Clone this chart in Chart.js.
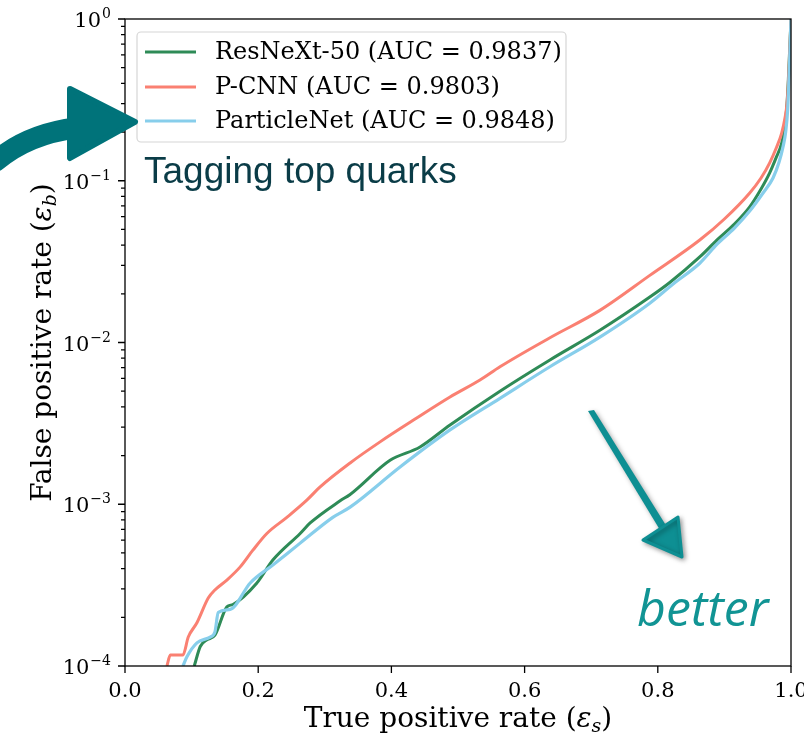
<!DOCTYPE html>
<html>
<head>
<meta charset="utf-8">
<script src="https://cdn.jsdelivr.net/npm/chart.js@4.4.1/dist/chart.umd.min.js"></script>
<style>
  html, body { margin: 0; padding: 0; background: #ffffff; }
  #roc { display: block; }
</style>
</head>
<body>
<canvas id="roc" width="804" height="735"></canvas>
<script>
// ROC curves (signal eff. vs background eff.)
const resnextLabel = "ResNeXt-50 (AUC = 0.9837)";
const resnextTpr = [0.104, 0.113, 0.123, 0.135, 0.153, 0.162, 0.198, 0.222, 0.263, 0.278, 0.323, 0.338, 0.398, 0.443, 0.488, 0.563, 0.638, 0.713, 0.788, 0.818, 0.863, 0.889, 0.915, 0.938, 0.955, 0.968, 0.978, 0.986, 0.991, 0.994, 0.996, 0.998, 1.0];
const resnextFpr = [1.0e-4, 1.32e-4, 1.45e-4, 1.55e-4, 2.32e-4, 2.40e-4, 3.26e-4, 4.52e-4, 6.6e-4, 7.66e-4, 1.05e-3, 1.15e-3, 1.87e-3, 2.26e-3, 3.09e-3, 5.0e-3, 7.8e-3, 1.19e-2, 1.91e-2, 2.35e-2, 3.38e-2, 4.31e-2, 5.4e-2, 6.9e-2, 8.9e-2, 0.112, 0.14, 0.171, 0.22, 0.30, 0.42, 0.65, 1.0];

const pcnnLabel = "P-CNN (AUC = 0.9803)";
const pcnnTpr = [0.063, 0.068, 0.087, 0.095, 0.108, 0.125, 0.135, 0.153, 0.173, 0.192, 0.213, 0.243, 0.273, 0.293, 0.338, 0.383, 0.438, 0.488, 0.533, 0.563, 0.638, 0.713, 0.788, 0.863, 0.90, 0.938, 0.955, 0.968, 0.978, 0.986, 0.991, 0.994, 0.996, 0.998, 1.0];
const pcnnFpr = [1.0e-4, 1.17e-4, 1.17e-4, 1.51e-4, 1.85e-4, 2.63e-4, 2.95e-4, 3.4e-4, 4.1e-4, 5.2e-4, 6.6e-4, 8.3e-4, 1.06e-3, 1.28e-3, 1.80e-3, 2.43e-3, 3.41e-3, 4.60e-3, 5.86e-3, 7.08e-3, 1.07e-2, 1.58e-2, 2.6e-2, 4.3e-2, 5.8e-2, 8.4e-2, 0.104, 0.129, 0.16, 0.197, 0.245, 0.30, 0.40, 0.62, 1.0];

const pnetLabel = "ParticleNet (AUC = 0.9848)";
const pnetTpr = [0.087, 0.093, 0.108, 0.128, 0.135, 0.140, 0.158, 0.188, 0.222, 0.263, 0.312, 0.338, 0.413, 0.488, 0.563, 0.638, 0.713, 0.788, 0.823, 0.863, 0.889, 0.915, 0.938, 0.958, 0.973, 0.982, 0.988, 0.992, 0.995, 0.998, 1.0];
const pnetFpr = [1.0e-4, 1.14e-4, 1.39e-4, 1.51e-4, 1.62e-4, 2.14e-4, 2.24e-4, 3.26e-4, 4.21e-4, 5.75e-4, 8.3e-4, 9.6e-4, 1.70e-3, 2.88e-3, 4.52e-3, 7.08e-3, 1.08e-2, 1.75e-2, 2.3e-2, 3.09e-2, 4.05e-2, 5.1e-2, 6.5e-2, 8.4e-2, 0.104, 0.13, 0.162, 0.20, 0.275, 0.56, 1.0];

const xTicks = [0, 0.2, 0.4, 0.6, 0.8, 1.0];
const yTicks = [1e-4, 1e-3, 1e-2, 1e-1, 1];
const yTickExps = ["\u22124", "\u22123", "\u22122", "\u22121", "0"];

const serif = "'DejaVu Serif', serif";

function pairs(xs, ys) {
  return xs.map((x, i) => ({ x: x, y: ys[i] }));
}

// draws pieces of text with different fonts / vertical offsets on one line
function drawRich(ctx, parts, x, y) {
  let total = 0;
  parts.forEach(p => { ctx.font = p.font; total += ctx.measureText(p.text).width; });
  let cx = x - total / 2;
  parts.forEach(p => {
    ctx.font = p.font;
    ctx.fillText(p.text, cx, y + (p.dy || 0));
    cx += ctx.measureText(p.text).width;
  });
}

const decorPlugin = {
  id: "decor",
  beforeDraw(chart) {
    const ctx = chart.ctx;
    ctx.save();
    ctx.fillStyle = "#ffffff";
    ctx.fillRect(0, 0, chart.width, chart.height);
    ctx.restore();
  },
  afterDraw(chart) {
    const ctx = chart.ctx;
    const area = chart.chartArea;
    const xs = chart.scales.x;
    const ys = chart.scales.y;
    ctx.save();

    // frame
    ctx.strokeStyle = "#000000";
    ctx.lineWidth = 1.3;
    ctx.strokeRect(area.left, area.top, area.right - area.left, area.bottom - area.top);

    // tick marks, major and minor
    ctx.beginPath();
    xTicks.forEach(v => {
      const px = xs.getPixelForValue(v);
      ctx.moveTo(px, area.bottom);
      ctx.lineTo(px, area.bottom + 7);
    });
    for (let e = -4; e <= 0; e++) {
      const py = ys.getPixelForValue(Math.pow(10, e));
      ctx.moveTo(area.left, py);
      ctx.lineTo(area.left - 7, py);
      if (e < 0) {
        for (let m = 2; m <= 9; m++) {
          const pm = ys.getPixelForValue(m * Math.pow(10, e));
          ctx.moveTo(area.left, pm);
          ctx.lineTo(area.left - 4, pm);
        }
      }
    }
    ctx.stroke();

    // tick labels
    ctx.fillStyle = "#000000";
    ctx.textBaseline = "alphabetic";
    ctx.textAlign = "center";
    ctx.font = "21px " + serif;
    xTicks.forEach(v => {
      ctx.fillText(v.toFixed(1), xs.getPixelForValue(v), 697);
    });
    ctx.textAlign = "left";
    yTicks.forEach((v, i) => {
      const py = ys.getPixelForValue(v);
      ctx.font = "14px " + serif;
      const ew = ctx.measureText(yTickExps[i]).width;
      ctx.font = "21px " + serif;
      const bw = ctx.measureText("10").width;
      const x0 = area.left - 15 - ew - bw;
      ctx.fillText("10", x0, py + 8);
      ctx.font = "14px " + serif;
      ctx.fillText(yTickExps[i], x0 + bw + 1, py - 1);
    });

    // axis titles
    drawRich(ctx, [
      { text: "True positive rate (", font: "28px " + serif },
      { text: "\u03B5", font: "italic 28px " + serif },
      { text: "s", font: "italic 19px " + serif, dy: 5 },
      { text: ")", font: "28px " + serif }
    ], (area.left + area.right) / 2, 727);

    ctx.save();
    ctx.translate(51, (area.top + area.bottom) / 2);
    ctx.rotate(-Math.PI / 2);
    drawRich(ctx, [
      { text: "False positive rate (", font: "28px " + serif },
      { text: "\u03B5", font: "italic 28px " + serif },
      { text: "b", font: "italic 19px " + serif, dy: 5 },
      { text: ")", font: "28px " + serif }
    ], 0, 0);
    ctx.restore();

    // legend box
    const lx = 137, ly = 32, lw = 429, lh = 110;
    ctx.beginPath();
    ctx.roundRect(lx, ly, lw, lh, 4);
    ctx.fillStyle = "rgba(255,255,255,0.8)";
    ctx.fill();
    ctx.strokeStyle = "#d6d6d6";
    ctx.lineWidth = 1.2;
    ctx.stroke();
    const rows = [52, 87, 121];
    chart.data.datasets.forEach((ds, i) => {
      ctx.beginPath();
      ctx.strokeStyle = ds.borderColor;
      ctx.lineWidth = ds.borderWidth;
      ctx.moveTo(145, rows[i]);
      ctx.lineTo(196, rows[i]);
      ctx.stroke();
      ctx.fillStyle = "#000000";
      ctx.font = "24px " + serif;
      ctx.textBaseline = "middle";
      ctx.fillText(ds.label, 215, rows[i] + 1);
    });

    // annotations
    ctx.textBaseline = "alphabetic";
    ctx.fillStyle = "#0a3c47";
    ctx.font = "37px 'Liberation Sans', Arial, sans-serif";
    ctx.fillText("Tagging top quarks", 144, 183);

    ctx.fillStyle = "#119494";
    ctx.font = "italic 50px 'Open Sans', sans-serif";
    ctx.fillText("better", 637, 626);

    // curved arrow on the left
    ctx.fillStyle = "#00737a";
    ctx.strokeStyle = "#00737a";
    ctx.lineCap = "round";
    ctx.lineWidth = 21;
    ctx.beginPath();
    ctx.moveTo(-4, 161);
    ctx.quadraticCurveTo(28, 134, 76, 128);
    ctx.stroke();
    ctx.beginPath();
    ctx.lineJoin = "round";
    ctx.lineWidth = 6;
    ctx.moveTo(70, 89);
    ctx.lineTo(135, 122);
    ctx.lineTo(70, 158);
    ctx.closePath();
    ctx.fill();
    ctx.stroke();

    // straight arrow pointing to the bottom right
    ctx.shadowColor = "rgba(0,0,0,0.35)";
    ctx.shadowBlur = 5;
    ctx.shadowOffsetX = 2;
    ctx.shadowOffsetY = 2;
    ctx.fillStyle = "#0e8f93";
    ctx.strokeStyle = "#0e8f93";
    ctx.beginPath();
    ctx.moveTo(588, 411);
    ctx.lineTo(594, 410);
    ctx.lineTo(667, 527);
    ctx.lineTo(660, 530);
    ctx.closePath();
    ctx.fill();
    ctx.beginPath();
    ctx.lineWidth = 3;
    ctx.moveTo(643, 540);
    ctx.lineTo(678, 517);
    ctx.lineTo(682, 557);
    ctx.closePath();
    ctx.fill();
    ctx.stroke();

    ctx.restore();
  }
};

const ctx = document.getElementById("roc").getContext("2d");
new Chart(ctx, {
  type: "scatter",
  data: {
    datasets: [
      { label: resnextLabel, data: pairs(resnextTpr, resnextFpr), borderColor: "#2e8b57", borderWidth: 3, order: 3 },
      { label: pcnnLabel, data: pairs(pcnnTpr, pcnnFpr), borderColor: "#fa8072", borderWidth: 3, order: 2 },
      { label: pnetLabel, data: pairs(pnetTpr, pnetFpr), borderColor: "#87ceeb", borderWidth: 3.2, order: 1 }
    ]
  },
  options: {
    responsive: false,
    devicePixelRatio: 1,
    animation: false,
    showLine: true,
    elements: {
      point: { radius: 0, hoverRadius: 0 },
      line: { cubicInterpolationMode: "monotone", fill: false, borderCapStyle: "butt" }
    },
    layout: { padding: { top: 19, right: 13, left: 0, bottom: 0 } },
    plugins: {
      legend: { display: false },
      tooltip: { enabled: false }
    },
    scales: {
      x: {
        type: "linear",
        min: 0,
        max: 1,
        afterFit: scale => { scale.height = 69; },
        ticks: { display: false },
        grid: { display: false, drawTicks: false },
        border: { display: false }
      },
      y: {
        type: "logarithmic",
        min: 1e-4,
        max: 1,
        afterFit: scale => { scale.width = 125; },
        ticks: { display: false },
        grid: { display: false, drawTicks: false },
        border: { display: false }
      }
    }
  },
  plugins: [decorPlugin]
});
</script>
</body>
</html>
